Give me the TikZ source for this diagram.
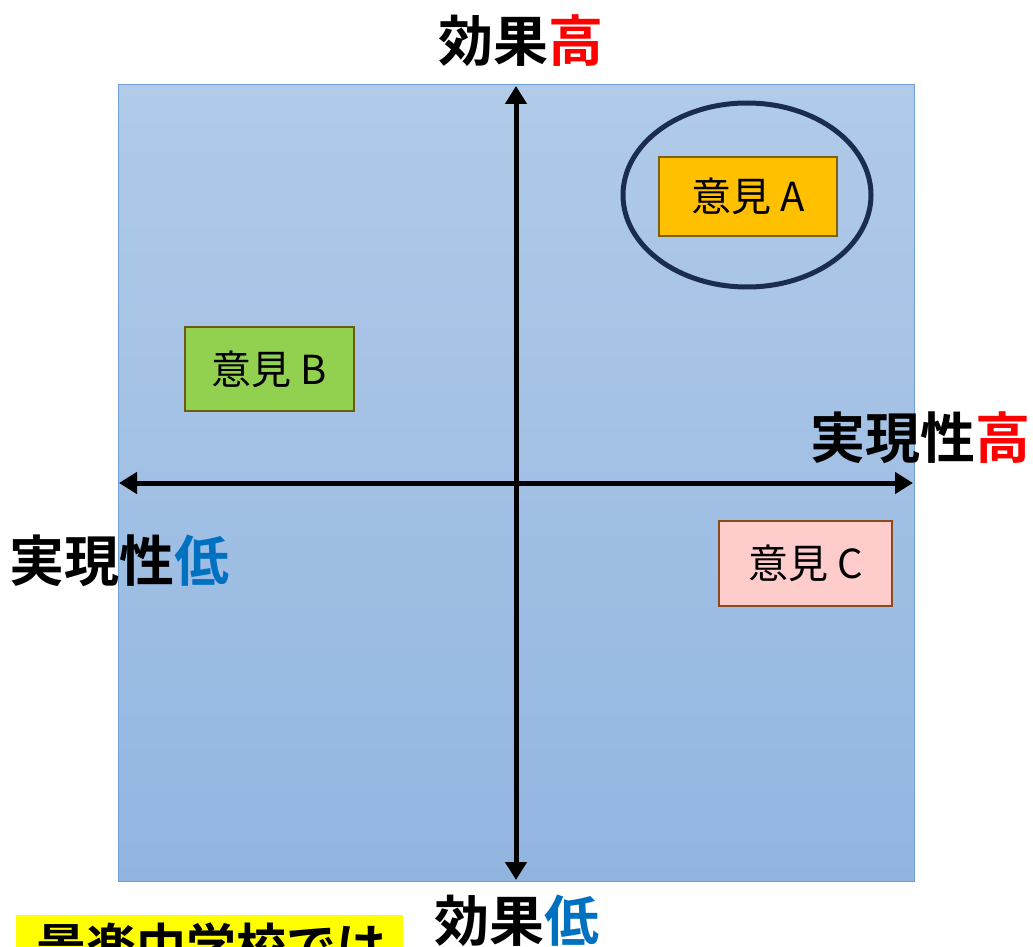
\documentclass[tikz,border=0pt]{standalone}
\usepackage{fontspec}
\newfontfamily\jp{Noto Sans CJK JP}
\newfontfamily\jpb{Noto Sans CJK JP Bold}
\usetikzlibrary{arrows.meta}
\definecolor{bgtop}{HTML}{B1CBE9}
\definecolor{bgbot}{HTML}{92B5E0}
\definecolor{frame}{HTML}{6FA0D8}
\definecolor{hi}{HTML}{FF0000}
\definecolor{lo}{HTML}{0070C0}
\definecolor{navy}{HTML}{1B2D4F}
\definecolor{fa}{HTML}{FFC000}
\definecolor{ba}{HTML}{7F6000}
\definecolor{fb}{HTML}{92D050}
\definecolor{bb}{HTML}{6E5A12}
\definecolor{fc}{HTML}{FFCCCC}
\definecolor{bc}{HTML}{8B4A1A}
\definecolor{yel}{HTML}{FFFF00}
\tikzset{
  axisline/.style={line width=5pt, {Triangle[length=18pt,width=21pt]}-{Triangle[length=18pt,width=21pt]}},
  opbox/.style={draw, line width=1.8pt, inner sep=0pt, font=\jp\fontsize{40}{42}\selectfont},
  biglabel/.style={font=\jpb\fontsize{55}{58}\selectfont, inner sep=0pt}
}
\begin{document}
\begin{tikzpicture}[x=1pt,y=-1pt]
\useasboundingbox (0,0) rectangle (1033,947);
\clip (0,0) rectangle (1033,947);
% background square
\shade[top color=bgtop, bottom color=bgbot] (118,85) rectangle (914,881);
\draw[frame, line width=1pt] (118,85) rectangle (914,881);
\node[name=frm, minimum width=796pt, minimum height=796pt, inner sep=0pt] at (516,483) {};
% axes
\coordinate (top) at (516,86);
\coordinate (bot) at (516,880);
\coordinate (lft) at (119,483);
\coordinate (rgt) at (913,483);
\draw[axisline] (bot) -- (top);
\draw[axisline] (lft) -- (rgt);
% labels
\node[biglabel] (lt) at (521,41) {効果\textcolor{hi}{高}};
\node[biglabel] (lb) at (517,921) {効果\textcolor{lo}{低}};
\node[biglabel, anchor=east] (lr) at (1031,438) {実現性\textcolor{hi}{高}};
\node[biglabel, anchor=west] (ll) at (9,561) {実現性\textcolor{lo}{低}};
% opinion boxes
\node[opbox, fill=fa, draw=ba, minimum width=178pt, minimum height=79pt] (a) at (748,196.5) {意見 A};
\node[opbox, fill=fb, draw=bb, minimum width=169pt, minimum height=84pt] (b) at (269.5,369) {意見 B};
\node[opbox, fill=fc, draw=bc, minimum width=173pt, minimum height=85pt] (c) at (805.5,563.5) {意見 C};
\draw[navy, line width=5pt] (747,195) ellipse [x radius=124pt, y radius=92pt];
% bottom yellow label (cut off)
\node[fill=yel, anchor=north west, minimum width=387pt, minimum height=60pt, inner sep=0pt] (y) at (16,915) {};
\node[font=\jpb\fontsize{50}{52}\selectfont, anchor=north west, inner sep=0pt] (yt) at (36,923) {景楽中学校では};
\end{tikzpicture}
\end{document}
